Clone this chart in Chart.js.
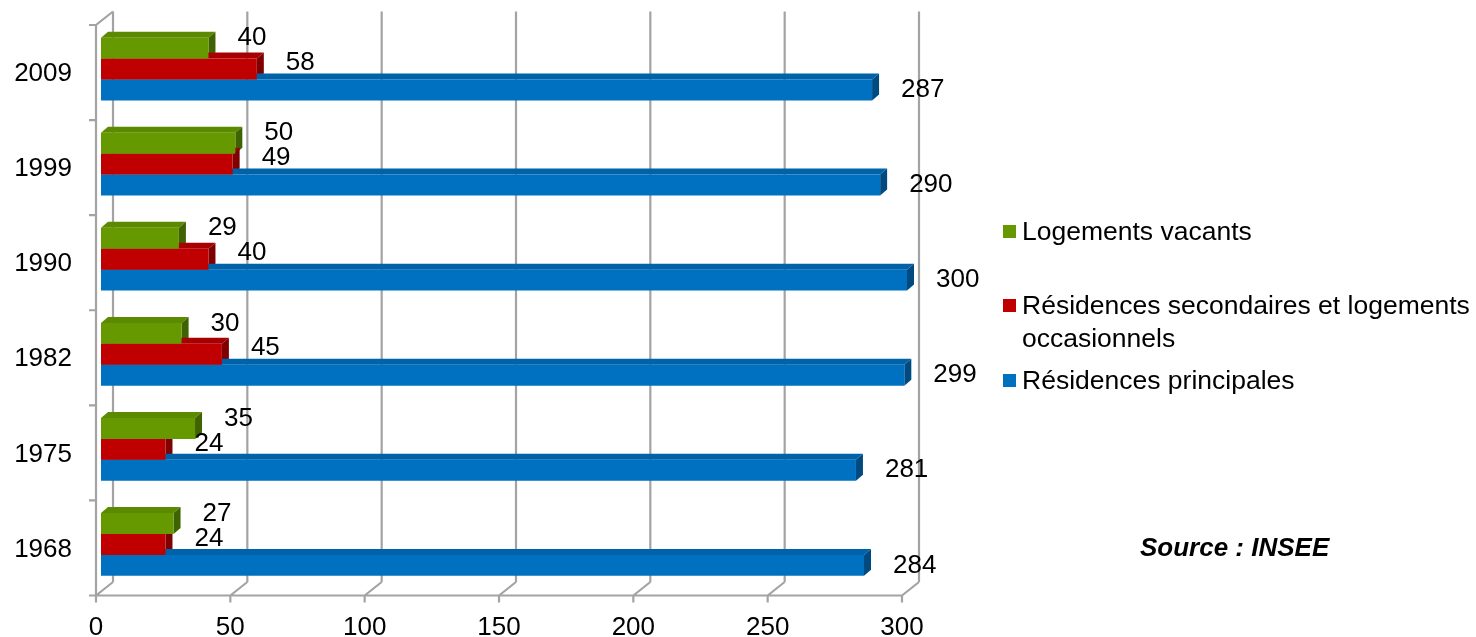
<!DOCTYPE html>
<html lang="fr">
<head>
<meta charset="utf-8">
<title>Logements - INSEE</title>
<script src="https://cdn.jsdelivr.net/npm/chart.js@4.4.1/dist/chart.umd.min.js"></script>
<style>
  html, body { margin: 0; padding: 0; background: #fff; overflow: hidden; }
  #wrap { position: relative; width: 1476px; height: 637px; font-family: "Liberation Sans", Arial, sans-serif; color: #000; }
  #chart { position: absolute; left: 0; top: 0; }
  .leg { position: absolute; left: 1003px; font-size: 26.5px; line-height: 33px; }
  .leg i { position: absolute; left: 0; top: 10px; width: 13px; height: 13px; }
  .leg span { display: block; margin-left: 19px; width: 460px; }
  #source { position: absolute; left: 1140px; top: 532px; font-size: 26px; line-height: 30px; font-weight: bold; font-style: italic; }
</style>
</head>
<body>
<div id="wrap">
  <canvas id="chart" width="1476" height="637"></canvas>
  <div id="legend"></div>
  <div id="source">Source : INSEE</div>
</div>
<script>
// housing stock by census year
var years = ['2009', '1999', '1990', '1982', '1975', '1968'];
var vacants = [40, 50, 29, 30, 35, 27];
var secondaires = [58, 49, 40, 45, 24, 24];
var principales = [287, 290, 300, 299, 281, 284];
var seriesNames = ['Logements vacants', 'Résidences secondaires et logements occasionnels', 'Résidences principales'];
var xTicks = [0, 50, 100, 150, 200, 250, 300];

(function(){
  var frontColors = ['#669900', '#c00000', '#0070c0'];
  var topColors = ['#5b8a00', '#a80000', '#0062a8'];
  var sideColors = ['#3f6300', '#7e0000', '#004a80'];
  var FONT = { family: '"Liberation Sans", Arial, sans-serif', size: 26 };

  // fake 3D: front plane, back wall and bar depth offsets
  var FRONT = { dx: -5, dy: 3.5 };
  var BACK = { dx: 12, dy: -10 };
  var DEPTH = { dx: 7, dy: -6 };
  var LABEL_DY = [-10, -6, 0];

  var walls = {
    id: 'walls',
    beforeDatasetsDraw: function(chart) {
      var c = chart.ctx, a = chart.chartArea, xs = chart.scales.x;
      var x0 = xs.getPixelForValue(xTicks[0]);
      var x1 = xs.getPixelForValue(xTicks[xTicks.length - 1]);
      c.save();
      c.strokeStyle = '#a3a3a3';
      c.lineWidth = 2.2;
      c.beginPath();
      xTicks.forEach(function(v) {
        var x = xs.getPixelForValue(v);
        c.moveTo(x + BACK.dx, a.top + BACK.dy);
        c.lineTo(x + BACK.dx, a.bottom + BACK.dy);
        c.moveTo(x + FRONT.dx, a.bottom + FRONT.dy);
        c.lineTo(x + BACK.dx, a.bottom + BACK.dy);
        c.moveTo(x + FRONT.dx, a.bottom + FRONT.dy);
        c.lineTo(x + FRONT.dx, a.bottom + FRONT.dy + 7);
      });
      c.moveTo(x0 + FRONT.dx, a.bottom + FRONT.dy);
      c.lineTo(x1 + FRONT.dx, a.bottom + FRONT.dy);
      c.moveTo(x0 + FRONT.dx, a.bottom + FRONT.dy);
      c.lineTo(x0 + FRONT.dx, a.top + FRONT.dy);
      c.lineTo(x0 + BACK.dx, a.top + BACK.dy);
      for (var i = 0; i <= years.length; i++) {
        var y = a.top + (a.bottom - a.top) * i / years.length + FRONT.dy;
        c.moveTo(x0 + FRONT.dx - 7, y);
        c.lineTo(x0 + FRONT.dx, y);
      }
      c.stroke();

      // top and side faces go under the front faces drawn by Chart.js
      chart.data.datasets.forEach(function(ds, i) {
        chart.getDatasetMeta(i).data.forEach(function(bar) {
          var p = bar.getProps(['x', 'y', 'base', 'height'], true);
          var top = p.y - p.height / 2, bot = p.y + p.height / 2;
          c.fillStyle = topColors[i];
          c.beginPath();
          c.moveTo(p.base, top);
          c.lineTo(p.base + DEPTH.dx, top + DEPTH.dy);
          c.lineTo(p.x + DEPTH.dx, top + DEPTH.dy);
          c.lineTo(p.x, top);
          c.closePath();
          c.fill();
          c.fillStyle = sideColors[i];
          c.beginPath();
          c.moveTo(p.x, top);
          c.lineTo(p.x + DEPTH.dx, top + DEPTH.dy);
          c.lineTo(p.x + DEPTH.dx, bot + DEPTH.dy);
          c.lineTo(p.x, bot);
          c.closePath();
          c.fill();
        });
      });
      c.restore();
    }
  };

  var valueLabels = {
    id: 'valueLabels',
    afterDatasetsDraw: function(chart) {
      var c = chart.ctx;
      c.save();
      c.font = FONT.size + 'px ' + FONT.family;
      c.fillStyle = '#000';
      c.textAlign = 'left';
      c.textBaseline = 'middle';
      chart.data.datasets.forEach(function(ds, i) {
        chart.getDatasetMeta(i).data.forEach(function(bar, j) {
          c.fillText(String(ds.data[j]), bar.x + 29, bar.y + LABEL_DY[i]);
        });
      });
      c.restore();
    }
  };

  var values = [vacants, secondaires, principales];
  var datasets = seriesNames.map(function(name, i) {
    return { label: name, data: values[i], backgroundColor: frontColors[i], borderWidth: 0 };
  });

  // legend as plain html, the long label wraps on two lines
  var legendTops = [215, 289, 364];
  var legend = document.getElementById('legend');
  seriesNames.forEach(function(name, i) {
    var item = document.createElement('div');
    item.className = 'leg';
    item.style.top = legendTops[i] + 'px';
    var sw = document.createElement('i');
    sw.style.background = frontColors[i];
    var txt = document.createElement('span');
    txt.textContent = name;
    item.appendChild(sw);
    item.appendChild(txt);
    legend.appendChild(item);
  });

  new Chart(document.getElementById('chart').getContext('2d'), {
    type: 'bar',
    data: { labels: years, datasets: datasets },
    options: {
      indexAxis: 'y',
      responsive: false,
      animation: false,
      layout: { padding: { top: 21.5, right: 569, bottom: 0, left: 0 } },
      datasets: { bar: { categoryPercentage: 0.66, barPercentage: 1 } },
      plugins: { legend: { display: false }, tooltip: { enabled: false } },
      scales: {
        x: {
          min: 0, max: 300,
          afterBuildTicks: function(s) { s.ticks = xTicks.map(function(v){ return { value: v }; }); },
          afterFit: function(s) { s.height = 45; s.paddingLeft = 0; s.paddingRight = 0; },
          ticks: { color: '#000', font: FONT, padding: 20, labelOffset: -5, maxRotation: 0, autoSkip: false },
          grid: { display: false, drawTicks: false },
          border: { display: false }
        },
        y: {
          afterFit: function(s) { s.width = 101; s.paddingTop = 0; s.paddingBottom = 0; },
          ticks: { color: '#000', font: FONT, padding: 29, labelOffset: 5 },
          grid: { display: false, drawTicks: false },
          border: { display: false }
        }
      }
    },
    plugins: [walls, valueLabels]
  });
})();
</script>
</body>
</html>
